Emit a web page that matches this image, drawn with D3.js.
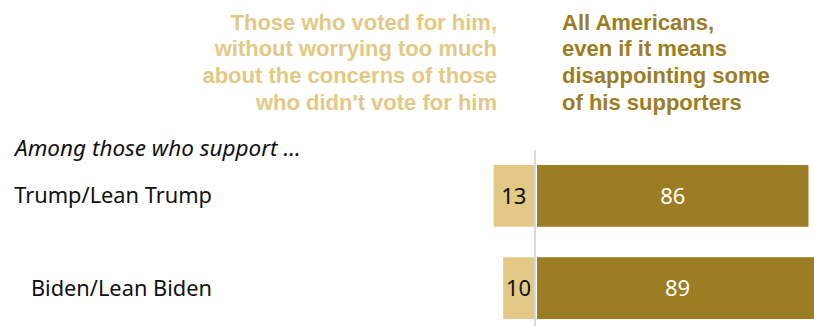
<!DOCTYPE html>
<html>
<head>
<meta charset="utf-8">
<script src="https://cdn.jsdelivr.net/npm/d3@7"></script>
<style>
  html, body { margin: 0; padding: 0; background: #fff; }
  svg { display: block; }
  text { font-family: "Noto Sans", "Liberation Sans", Arial, sans-serif; }
  .hdr { font-family: "Liberation Sans", Arial, sans-serif; font-weight: bold; font-size: 22px; }
</style>
</head>
<body>
<svg id="chart" width="814" height="326"></svg>
<script>
// Groups and answer shares (%)
const groups = ["Trump/Lean Trump", "Biden/Lean Biden"];
const supportersOnly = [13, 10];
const allAmericans = [86, 89];

// Column headings, one entry per line
const headLeft = ["Those who voted for him,", "without worrying too much", "about the concerns of those", "who didn't vote for him"];
const headRight = ["All Americans,", "even if it means", "disappointing some", "of his supporters"];
const groupIntro = "Among those who support ...";

const lightGold = "#E3C985";
const darkGold = "#9C7D24";

const svg = d3.select("#chart");
const W = 814, H = 326;

const x = d3.scaleLinear().domain([0, 100]).range([535, 853]);
const y = d3.scaleBand().domain(groups).range([165, 319]).paddingInner(0.33).paddingOuter(0);

const rows = groups.map((g, i) => ({ g, left: supportersOnly[i], right: allAmericans[i] }));

// Column headings
const lineH = 26.8;
svg.append("text").attr("class", "hdr").attr("fill", lightGold)
  .attr("text-anchor", "end")
  .selectAll("tspan").data(headLeft).join("tspan")
  .attr("x", x(0) - 38).attr("y", (d, i) => 29.5 + i * lineH).text(d => d);

svg.append("text").attr("class", "hdr").attr("fill", darkGold)
  .attr("text-anchor", "start")
  .selectAll("tspan").data(headRight).join("tspan")
  .attr("x", x(0) + 27).attr("y", (d, i) => 29.5 + i * lineH).text(d => d);

// Intro line above the group labels
svg.append("text").attr("x", 15).attr("y", 156).attr("font-size", 22.5)
  .attr("font-style", "italic").attr("fill", "#111").text(groupIntro);

const row = svg.selectAll("g.row").data(rows).join("g").attr("class", "row");

// Left segment: voters only
row.append("rect")
  .attr("x", d => 2 * x(0) - x(d.left))
  .attr("y", d => y(d.g))
  .attr("width", d => x(d.left) - x(0) - 1)
  .attr("height", y.bandwidth())
  .attr("fill", lightGold);

// Right segment: all Americans
row.append("rect")
  .attr("x", x(0) + 2)
  .attr("y", d => y(d.g))
  .attr("width", d => x(d.right) - x(0) - 2)
  .attr("height", y.bandwidth())
  .attr("fill", darkGold);

// Zero line
svg.append("line")
  .attr("x1", x(0)).attr("x2", x(0))
  .attr("y1", 150).attr("y2", H)
  .attr("stroke", "#DADADA").attr("stroke-width", 2);

// Value labels
row.append("text")
  .attr("x", d => x(0) - (x(d.left) - x(0)) / 2 - 0.5)
  .attr("y", d => y(d.g) + y.bandwidth() / 2 + 8)
  .attr("text-anchor", "middle").attr("font-size", 22).attr("fill", "#111")
  .text(d => d.left);

row.append("text")
  .attr("x", d => (x(0) + x(d.right)) / 2 + 1)
  .attr("y", d => y(d.g) + y.bandwidth() / 2 + 8)
  .attr("text-anchor", "middle").attr("font-size", 22).attr("fill", "#fff")
  .text(d => d.right);

// Group labels
row.append("text")
  .attr("x", 212)
  .attr("y", d => y(d.g) + y.bandwidth() / 2 + 7.5)
  .attr("text-anchor", "end").attr("font-size", 21.8).attr("fill", "#111")
  .text(d => d.g);
</script>
</body>
</html>
